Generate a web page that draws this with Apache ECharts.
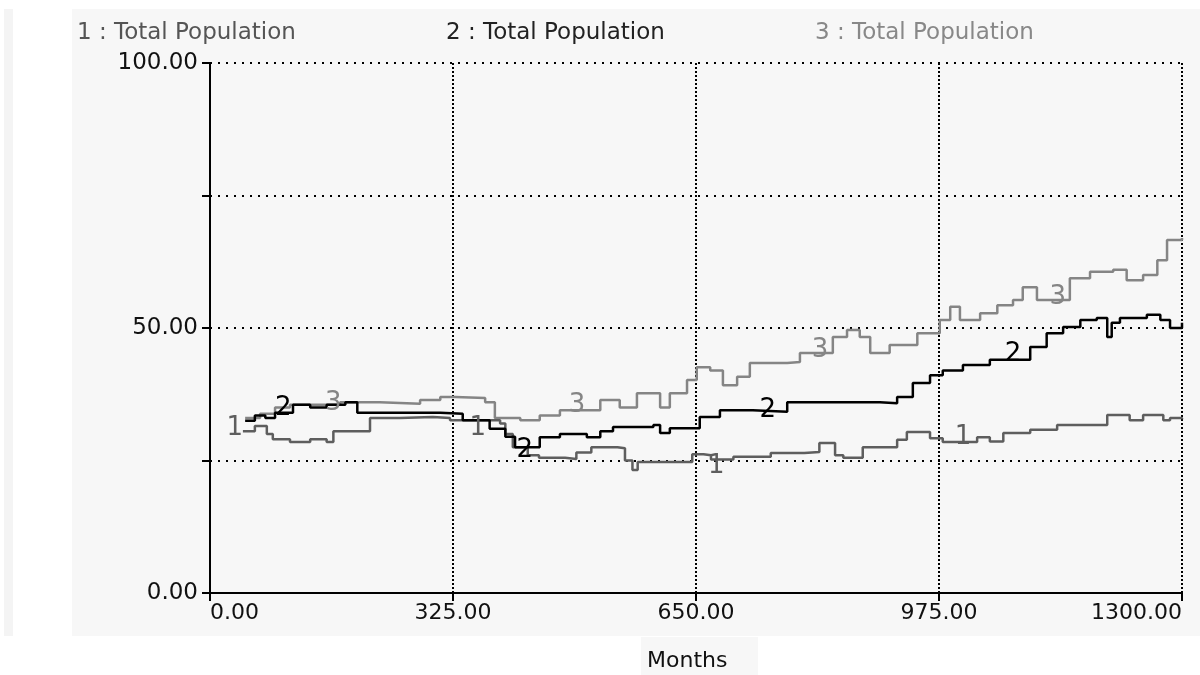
<!DOCTYPE html>
<html>
<head>
<meta charset="utf-8">
<script src="https://cdn.jsdelivr.net/npm/echarts@6/dist/echarts.min.js"></script>
<style>
html,body{margin:0;padding:0;background:#fff;}
#chart{width:1200px;height:675px;}
</style>
</head>
<body>
<div id="chart"></div>
<script>
// ---- data (month, Total Population) ----
const seriesNames = ['1 : Total Population', '2 : Total Population', '3 : Total Population'];
const xTicks = [0, 325, 650, 975, 1300];
const yTickLabels = [0, 50, 100];

const pop1 = [[44,30.5],[60,31.5],[76,30],[84,29],[107,28.5],[134,29],[156,28.5],[165,30.5],[187,30.5],
  [214,33],[254,33.2],[298,33],[321,32.6],[370,32.6],[388,32],[395,30],[405,27.5],[425,26],[440,25.5],
  [475,25.3],[490,26.5],[510,27.5],[545,27.3],[555,25],[565,23.2],[572,24.7],[630,24.7],[645,26.2],
  [660,26],[670,25.2],[700,25.7],[750,26.4],[795,26.6],[815,28.3],[836,26],[847,25.5],[873,27.5],
  [919,28.9],[932,30.4],[963,29.2],[980,28.5],[1026,29.4],[1043,28.6],[1061,30.2],[1097,30.8],
  [1133,31.7],[1200,33.6],[1230,32.6],[1248,33.6],[1275,32.6],[1284,33],[1300,32.8]];

const pop2 = [[47,32.5],[60,33.5],[74,33],[87,34],[111,35.5],[134,35],[156,35.5],[181,36],[197,34],
  [254,34],[308,33.8],[338,32.6],[361,32.6],[374,31],[395,29.5],[408,27.5],[441,29.4],[468,30],
  [504,29.4],[522,30.5],[539,31.3],[593,31.7],[602,30.2],[615,31.1],[638,31.1],[655,33.2],[682,34.5],
  [726,34.2],[772,36],[856,36],[896,35.8],[919,37],[940,39.6],[963,41.1],[980,42],[1007,43],[1043,44],
  [1097,46.4],[1119,49],[1141,50.2],[1164,51.5],[1186,51.9],[1200,48.3],[1206,51],[1217,51.9],
  [1253,52.5],[1271,51.5],[1284,50],[1300,51]];

const pop3 = [[47,33],[67,33.8],[87,35],[107,35.5],[174,36],[227,35.7],[281,36.4],[308,37],[328,36.8],
  [368,36],[381,33],[415,32.6],[441,33.5],[468,34.5],[522,36.4],[548,35],[571,37.7],[602,35],[615,37.7],
  [638,40.2],[651,42.6],[669,42],[686,39.2],[705,40.8],[722,43.4],[772,43.6],[789,45.3],[833,48.3],
  [852,49.6],[869,48.3],[883,45.3],[909,46.8],[946,49],[976,51.5],[990,54],[1003,51.5],[1030,52.8],
  [1053,54.3],[1074,55.3],[1087,57.7],[1106,55.3],[1150,59.4],[1177,60.6],[1208,61],[1226,59],
  [1248,60],[1267,62.8],[1280,66.6],[1300,67]];

// in-plot series number labels (month, value)
const marks1 = [[33,31],[358,31],[677,24],[1007,29.4]];
const marks2 = [[98,34.8],[421,27],[746,34.5],[1074,45]];
const marks3 = [[165,35.8],[491,35.5],[816,45.8],[1134,55.8]];

const colors = ['#5e5e5e', '#000000', '#858585'];
const legendColors = ['#555555', '#222222', '#888888'];
const FONT = 'DejaVu Sans';

function markData(arr, txt, color) {
  return {
    symbol: 'rect', symbolSize: 1,
    itemStyle: {color: 'rgba(0,0,0,0)'},
    label: {show: true, position: 'inside', formatter: txt, color: color, fontSize: 26, fontFamily: FONT},
    data: arr.map(p => ({coord: p}))
  };
}

const chart = echarts.init(document.getElementById('chart'), null, {renderer: 'canvas'});
const option = {
  backgroundColor: '#ffffff',
  animation: false,
  graphic: [
    {type: 'rect', z: -10, shape: {x: 72, y: 9, width: 1128, height: 627}, style: {fill: '#f7f7f7'}},
    {type: 'rect', z: -10, shape: {x: 4, y: 9, width: 9, height: 627}, style: {fill: '#f4f4f4'}},
    {type: 'rect', z: -10, shape: {x: 641, y: 637, width: 117, height: 38}, style: {fill: '#f7f7f7'}},
    {type: 'text', left: 77, top: 22, style: {text: seriesNames[0], fill: legendColors[0], font: '23px "DejaVu Sans"'}},
    {type: 'text', left: 446, top: 22, style: {text: seriesNames[1], fill: legendColors[1], font: '23px "DejaVu Sans"'}},
    {type: 'text', left: 815, top: 22, style: {text: seriesNames[2], fill: legendColors[2], font: '23px "DejaVu Sans"'}},
    {type: 'text', left: 647, top: 650, style: {text: 'Months', fill: '#111', font: '22px "DejaVu Sans"'}}
  ],
  grid: {left: 210, right: 18, top: 63, bottom: 82, containLabel: false},
  xAxis: {
    type: 'value', min: 0, max: 1300, interval: 325,
    axisLine: {show: true, lineStyle: {color: '#000', width: 2}},
    axisTick: {show: true, length: 8, lineStyle: {color: '#000', width: 2}},
    axisLabel: {
      color: '#111', fontSize: 22, fontFamily: FONT, margin: 9,
      formatter: v => xTicks.indexOf(v) >= 0 ? v.toFixed(2) : '',
      alignMinLabel: 'left', alignMaxLabel: 'right', showMinLabel: true, showMaxLabel: true
    },
    splitLine: {show: true, lineStyle: {color: '#000', width: 2, type: [2, 2]}}
  },
  yAxis: {
    type: 'value', min: 0, max: 100, interval: 25,
    axisLine: {show: true, lineStyle: {color: '#000', width: 2}},
    axisTick: {show: true, length: 8, lineStyle: {color: '#000', width: 2}},
    axisLabel: {
      color: '#111', fontSize: 23, fontFamily: FONT, margin: 12,
      formatter: v => yTickLabels.indexOf(v) >= 0 ? v.toFixed(2) : ''
    },
    splitLine: {show: true, lineStyle: {color: '#000', width: 2, type: [2, 6]}}
  },
  series: [
    {name: seriesNames[0], type: 'line', step: 'end', data: pop1, showSymbol: false, silent: true,
      lineStyle: {color: colors[0], width: 2.5}, itemStyle: {color: colors[0]}, markPoint: markData(marks1, '1', colors[0]), z: 3},
    {name: seriesNames[1], type: 'line', step: 'end', data: pop2, showSymbol: false, silent: true,
      lineStyle: {color: colors[1], width: 2.5}, itemStyle: {color: colors[1]}, markPoint: markData(marks2, '2', colors[1]), z: 4},
    {name: seriesNames[2], type: 'line', step: 'end', data: pop3, showSymbol: false, silent: true,
      lineStyle: {color: colors[2], width: 2.5}, itemStyle: {color: colors[2]}, markPoint: markData(marks3, '3', colors[2]), z: 2}
  ]
};
chart.setOption(option);
</script>
</body>
</html>
